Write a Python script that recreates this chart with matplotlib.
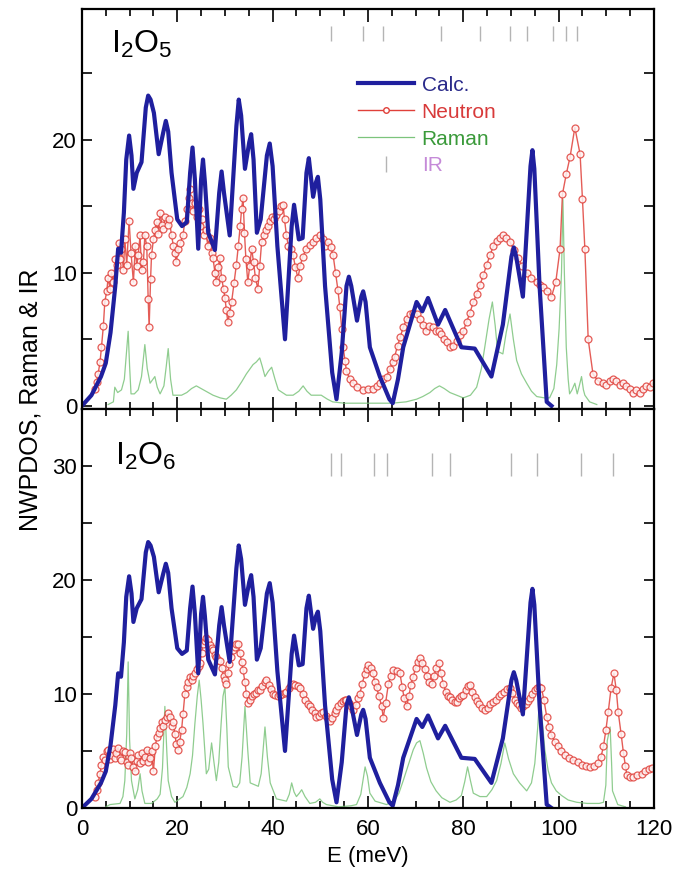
import matplotlib
matplotlib.use("Agg")
import matplotlib.pyplot as plt
from matplotlib.lines import Line2D
from matplotlib.ticker import MultipleLocator

plt.rcParams['font.family'] = ['Liberation Sans', 'DejaVu Sans']
plt.rcParams['mathtext.default'] = 'regular'

# calculated NWPDOS (same curve in both panels)
calc_E = [0, 2, 4, 5, 6, 7, 7.6, 8.2, 8.8, 9.3, 9.9, 10.4, 10.8, 11.5, 12.5, 13.4, 13.9, 14.4, 15.1, 16.1,
          17.1, 17.6, 18.1, 18.8, 20, 21, 22, 22.7, 23.2, 23.7, 24.4, 25.0, 25.4, 25.8, 26.5, 27.9,
          28.8, 29.3, 29.8, 31, 32.4, 32.9, 33.4, 34.2, 35.1, 35.5, 36.0, 36.7, 37.5, 38.8, 39.4, 40.0,
          41, 42.6, 44.0, 44.5, 45.0, 45.5, 46.3, 47.1, 47.6, 48.5, 49.1, 49.5, 50.0, 51, 52.5, 53.4,
          54.5, 55.5, 56, 56.5, 57.7, 58.6, 59, 59.5, 60.4, 62.5, 64.5, 65.2, 66.3, 67.4, 70.2, 71.4,
          72.6, 74.7, 76.2, 79.6, 82.4, 85.9, 88.3, 90.1, 90.6, 91.1, 92.5, 94.1, 94.5, 94.9, 96,
          97.5, 98.5]
calc_v = [0, 0.8, 2.2, 3.2, 5.5, 9, 11.8, 11.5, 14.5, 18.5, 20.3, 18.8, 16.3, 17.5, 18.3, 22.4, 23.3, 23.0, 22, 18.9,
          20.6, 21.4, 20.6, 17.5, 14, 13.5, 13.8, 17.5, 19.4, 17.0, 11.8, 17.0, 18.5, 16.8, 13, 11.7,
          16.0, 17.6, 16.0, 12.8, 21.0, 23, 21.8, 17.8, 19.8, 20.4, 18.5, 13, 14, 18.8, 19.7, 18.0,
          12, 5, 13.5, 15.1, 13.8, 12.5, 12.6, 17.5, 18.6, 15.7, 16.8, 17.2, 15.5, 9, 2.5, 0.5,
          4, 9.0, 9.7, 9.0, 6.4, 8.2, 8.6, 7.8, 4.4, 2.2, 0.5, 0.2, 2, 4.4, 7.8, 7.1,
          8.1, 6.1, 7.2, 4.4, 4.3, 2.2, 6.1, 11.2, 11.9, 11.2, 8.2, 18.0, 19.2, 17.8, 9,
          0.3, 0]

# I2O5 neutron
n5_E = [2.7, 3.1, 3.4, 3.8, 4.1, 4.5, 4.8, 5.2, 5.5, 5.9, 6.2, 6.6, 7.0, 7.3, 7.7, 8.0, 8.3, 8.7, 9.0,
        9.4, 9.9, 10.3, 10.8, 11.2, 11.5, 11.8, 12.2, 12.5, 12.9, 13.2, 13.6, 13.9, 14.1, 14.4, 14.6,
        15.0, 15.3, 15.7, 16.0, 16.4, 16.8, 17.0, 17.5, 18.0, 18.3, 18.8, 19.2, 19.5, 19.8, 20.2, 20.6,
        21.2, 21.6, 22.0, 22.4, 22.7, 23.0, 23.4, 23.7, 24.1, 24.5, 24.8, 25.2, 25.6, 26.0, 26.4, 26.8,
        27.2, 27.5, 27.9, 28.2, 28.6, 28.9, 29.3, 29.7, 30.0, 30.3, 30.6, 31.0, 31.4, 31.9, 32.4, 32.8,
        33.2, 33.5, 33.8, 34.1, 34.4, 34.8, 35.2, 35.6, 36.0, 36.4, 36.9, 37.3, 37.7, 38.2, 38.6, 39.0,
        39.4, 39.9, 40.3, 40.8, 41.3, 41.8, 42.2, 42.5, 42.9, 43.3, 43.8, 44.3, 44.8, 45.3, 45.8, 46.3,
        47.1, 47.8, 48.5, 49.2, 49.9, 50.5, 51.0, 51.6, 52.2, 52.7, 53.2, 53.7, 54.1, 54.5, 54.8, 55.2,
        55.5, 56.2, 56.9, 57.8, 59.0, 60.0, 61.0, 62.0, 62.5, 63.2, 63.9, 64.6, 65.2, 65.6, 66.2, 66.8,
        67.4, 68.1, 68.8, 69.5, 70.2, 70.9, 71.6, 72.2, 72.8, 73.6, 74.3, 75.0, 75.4, 76.0, 76.6, 77.2,
        77.8, 78.6, 79.3, 80.0, 80.7, 81.4, 82.1, 82.8, 83.5, 84.2, 84.9, 85.6, 86.3, 87.0, 87.6, 88.3,
        89.0, 89.8, 90.6, 91.5, 92.4, 93.3, 94.3, 95.4, 96.0, 96.7, 97.6, 98.5, 99.4, 100.3, 100.8, 101.6,
        102.4, 103.4, 104.5, 105.0, 105.5, 106.2, 107.2, 108.2, 109.3, 110.0, 110.7, 111.4, 112.1, 112.8,
        113.5, 114.2, 114.9, 115.6, 116.3, 117.0, 117.7, 118.4, 119.1, 119.7]
n5_v = [1.3, 1.8, 2.4, 3.3, 4.4, 6.0, 7.8, 8.6, 9.6, 8.8, 10.0, 9.3, 11.0, 10.6, 12.2, 11.0, 11.8, 10.2, 12.5,
        10.6, 13.9, 11.5, 9.3, 12.0, 10.5, 11.3, 12.8, 10.2, 10.8, 12.8, 12.0, 8.0, 5.9, 9.5, 11.3,
        12.5, 13.2, 13.8, 12.9, 14.5, 13.6, 13.3, 14.2, 13.6, 14.0, 12.8, 12.0, 11.5, 10.8, 11.8, 12.2,
        12.8, 13.9, 14.8, 15.6, 16.3, 15.2, 14.6, 15.2, 14.2, 14.8, 13.5, 14.0, 12.8, 13.2, 12.0, 12.6,
        11.5, 11.1, 10.0, 9.3, 10.4, 11.1, 9.6, 8.8, 8.1, 7.2, 6.3, 7.0, 7.8, 9.2, 10.6, 12.0,
        13.5, 14.8, 15.6, 13.0, 11.0, 9.3, 10.5, 11.8, 10.8, 9.6, 8.8, 10.5, 12.3, 12.8, 13.2, 13.5,
        13.9, 14.2, 14.0, 14.3, 14.6, 15.0, 15.1, 14.0, 12.8, 12.0, 11.8, 11.3, 10.4, 9.6, 10.5, 11.2,
        11.8, 12.1, 12.3, 12.6, 12.8, 12.5, 12.0, 12.3, 11.9, 11.3, 10.0, 8.7, 7.4, 5.8, 4.4, 3.4,
        2.6, 2.0, 1.7, 1.4, 1.2, 1.3, 1.3, 1.5, 1.7, 2.0, 2.2, 2.8, 3.3, 3.7, 4.5, 5.2,
        5.9, 6.5, 6.9, 7.0, 6.9, 6.5, 6.1, 5.6, 6.0, 5.9, 5.6, 5.6, 5.4, 5.0, 4.8, 4.4,
        4.5, 4.9, 5.3, 5.6, 6.3, 7.0, 7.8, 8.4, 9.1, 9.8, 10.6, 11.3, 12.0, 12.4, 12.6, 12.8,
        12.6, 12.3, 11.7, 11.1, 10.5, 10.0, 9.6, 9.3, 9.1, 8.9, 8.6, 8.2, 9.3, 11.8, 15.9, 17.4,
        18.7, 20.9, 18.9, 15.5, 11.8, 5.0, 2.4, 1.9, 1.7, 1.6, 1.9, 2.0, 1.9, 1.6,
        1.7, 1.5, 1.3, 1.0, 1.2, 1.0, 1.3, 1.5, 1.4, 1.7]

# I2O6 neutron
n6_E = [2.7, 3.1, 3.4, 3.8, 4.1, 4.5, 4.8, 5.2, 5.5, 5.9, 6.2, 6.6, 6.9, 7.2, 7.6, 8.0, 8.3, 8.7, 9.0,
        9.4, 9.7, 10.1, 10.4, 10.8, 11.1, 11.5, 11.8, 12.2, 12.5, 12.9, 13.2, 13.6, 13.9, 14.3, 14.6,
        15.0, 15.4, 15.7, 16.1, 16.4, 16.8, 17.1, 17.4, 17.8, 18.1, 18.5, 18.8, 19.1, 19.5, 19.8, 20.2,
        20.5, 20.9, 21.2, 21.6, 22.0, 22.3, 22.7, 23.0, 23.4, 23.7, 24.1, 24.5, 24.8, 25.1, 25.4, 25.8,
        26.1, 26.5, 26.8, 27.2, 27.5, 27.9, 28.2, 28.6, 29.0, 29.3, 29.7, 30.0, 30.3, 30.6, 30.9, 31.3,
        31.7, 32.1, 32.4, 32.8, 33.1, 33.5, 33.8, 34.2, 34.5, 34.9, 35.2, 35.6, 36.0, 36.5, 37.0, 37.3,
        37.8, 38.3, 38.7, 39.2, 39.6, 40.1, 40.6, 41.1, 41.5, 42.0, 42.5, 42.9, 43.4, 43.9, 44.3, 44.8,
        45.3, 45.7, 46.3, 46.9, 47.4, 47.8, 48.3, 48.8, 49.2, 49.7, 50.2, 50.6, 51.1, 51.6, 52.0, 52.5,
        53.0, 53.4, 53.8, 54.3, 54.8, 55.2, 55.5, 56.0, 56.4, 56.9, 57.4, 57.9, 58.3, 58.8, 59.3, 59.7,
        60.1, 60.6, 61.0, 61.5, 61.8, 62.3, 62.9, 63.2, 63.7, 64.3, 64.8, 65.3, 66.0, 66.7, 67.2, 67.6,
        68.1, 68.6, 69.0, 69.5, 70.0, 70.4, 70.9, 71.4, 71.9, 72.4, 72.9, 73.4, 73.9, 74.3, 74.8, 75.3,
        75.8, 76.3, 76.8, 77.2, 77.7, 78.2, 78.6, 79.1, 79.6, 80.0, 80.5, 81.0, 81.4, 81.9, 82.4, 82.8,
        83.3, 83.9, 84.5, 85.1, 85.7, 86.3, 86.9, 87.5, 88.0, 88.6, 89.2, 89.8, 90.3, 90.8, 91.2, 91.7,
        92.2, 92.6, 93.1, 93.6, 94.0, 94.5, 95.0, 95.4, 95.9, 96.4, 96.9, 97.5, 98.0, 98.5, 99.2, 99.9,
        100.6, 101.3, 102.2, 103.1, 104.0, 104.8, 105.7, 106.6, 107.5, 108.3, 108.9, 109.4, 109.9, 110.4,
        111.0, 111.6, 112.1, 112.5, 113.1, 113.6, 114.0, 114.3, 115.0, 115.7, 116.5, 117.4, 118.2, 119.0,
        119.5]
n6_v = [1.0, 1.6, 2.2, 3.0, 3.8, 4.5, 4.2, 5.0, 5.1, 4.3, 4.6, 5.2, 4.4, 4.8, 5.3, 4.4, 4.2, 5.0, 4.9,
        4.0, 3.8, 4.8, 4.4, 3.6, 3.2, 4.1, 4.6, 3.9, 4.8, 4.1, 4.5, 5.1, 4.0, 4.4, 5.0,
        3.2, 5.4, 6.2, 6.6, 7.0, 7.5, 7.2, 7.7, 8.0, 8.3, 8.0, 7.2, 7.5, 6.5, 5.6, 5.1,
        5.8, 6.8, 8.2, 10.0, 10.6, 11.0, 11.5, 11.2, 11.6, 11.8, 12.2, 12.4, 12.7, 13.6, 14.4, 14.6,
        14.9, 14.7, 14.3, 14.0, 13.8, 13.4, 13.2, 13.0, 12.9, 12.3, 11.6, 11.2, 10.9, 11.8, 12.6, 13.2,
        13.8, 14.1, 14.4, 14.4, 13.6, 12.8, 12.1, 11.0, 10.0, 9.2, 9.5, 9.8, 10.0, 10.1, 10.3, 10.3,
        10.7, 11.0, 11.2, 10.8, 10.4, 10.0, 9.9, 9.8, 9.9, 10.0, 10.1, 10.2, 10.5, 10.8, 10.9, 10.8,
        10.7, 10.5, 10.0, 9.5, 9.1, 8.9, 8.6, 8.3, 8.0, 8.1, 8.3, 8.4, 8.1, 7.8, 7.6, 7.9,
        8.3, 8.6, 8.9, 9.2, 9.4, 9.5, 9.5, 9.2, 8.9, 8.6, 9.0, 9.6, 10.0, 10.9, 11.7, 12.2,
        12.5, 12.3, 11.8, 11.0, 10.6, 9.8, 8.9, 7.9, 9.2, 10.9, 11.6, 12.1, 12.0, 11.8, 10.6, 9.6,
        8.9, 9.8, 10.8, 11.5, 12.3, 12.8, 13.1, 12.7, 12.2, 11.6, 11.0, 10.9, 11.6, 12.3, 12.7, 11.8,
        10.9, 10.2, 9.8, 9.7, 9.5, 9.3, 9.3, 9.6, 9.8, 9.9, 10.3, 10.7, 10.8, 10.2, 9.7, 9.4,
        9.1, 8.8, 8.6, 8.8, 9.1, 9.3, 9.5, 9.8, 10.0, 10.2, 10.4, 10.5, 10.1, 9.5, 9.2, 9.0,
        8.8, 8.9, 9.1, 9.4, 9.6, 10.0, 10.3, 10.5, 10.6, 10.5, 9.5, 8.0, 7.1, 6.4, 5.8, 5.4,
        5.0, 4.6, 4.4, 4.2, 4.0, 3.8, 3.7, 3.6, 3.7, 3.9, 4.5, 5.4, 6.8, 8.4,
        10.5, 11.8, 10.3, 8.4, 6.5, 4.8, 3.7, 2.9, 2.7, 2.7, 2.9, 3.0, 3.2, 3.4,
        3.5]

# Raman spectra
r5_E = [5.5, 6.6, 6.9, 7.5, 8.3, 8.9, 9.3, 9.7, 10.0, 10.3, 11.0, 11.8, 12.5, 13.2, 13.7, 14.3, 15.3,
        15.8, 16.4, 17.2, 17.7, 18.1, 18.6, 19.1, 20.9, 22.0, 23.0, 24.0, 25.0, 26.0, 27.5, 29.0, 30.3,
        31.3, 32.4, 33.5, 34.5, 35.3, 35.9, 36.6, 37.3, 37.8, 38.4, 39.1, 39.8, 40.5, 41.2, 42.9, 44.3,
        45.5, 46.4, 47.2, 48.1, 50.2, 51.5, 52.6, 55.0, 60.0, 65.0, 68.0, 70.2, 71.5, 73.0, 74.0, 75.0,
        76.0, 77.2, 78.6, 80.0, 81.5, 82.8, 83.8, 84.5, 85.4, 86.1, 86.7, 87.2, 88.3, 89.0, 89.8, 90.5,
        91.2, 92.2, 93.3, 94.3, 95.4, 97.0, 98.1, 99.0, 99.6, 100.1, 100.6, 100.9, 101.2, 101.6, 102.0,
        102.3, 102.8, 103.4, 103.9, 104.4, 104.8, 105.2, 105.5, 106.5, 108.0]
r5_v = [0.1, 0.3, 1.4, 1.0, 1.2, 2.0, 3.8, 5.6, 3.0, 0.9, 0.9, 1.2, 2.2, 4.6, 2.8, 1.7, 2.2,
        1.4, 0.9, 1.5, 3.0, 4.3, 2.0, 0.8, 0.8, 1.0, 1.3, 1.5, 1.3, 1.1, 0.8, 0.6, 0.5,
        0.8, 1.2, 1.8, 2.4, 2.8, 3.1, 3.3, 3.6, 3.0, 2.2, 2.6, 2.9, 2.0, 1.2, 0.8, 0.8,
        1.1, 1.5, 1.1, 0.8, 0.8, 0.5, 0.3, 0.2, 0.2, 0.2, 0.3, 0.5, 0.7, 1.0, 1.3, 1.5,
        1.3, 1.0, 0.8, 0.6, 0.8, 1.4, 2.8, 4.4, 6.5, 7.8, 6.0, 4.1, 3.9, 5.5, 6.9, 5.0,
        3.4, 2.4, 1.7, 1.1, 0.7, 0.6, 0.6, 1.3, 3.1, 5.8, 10.0, 15.5, 10.0, 4.4, 2.0,
        0.9, 1.2, 1.7, 0.9, 1.6, 2.2, 1.2, 0.8, 0.3, 0.1]

r6_E = [5.0, 5.9, 8.0, 8.6, 9.0, 9.4, 9.7, 10.0, 10.4, 11.1, 11.7, 12.2, 12.6, 13.2, 14.6, 15.8, 16.4,
        16.9, 17.4, 17.8, 18.1, 18.8, 19.5, 21.2, 22.0, 22.7, 23.2, 23.7, 24.2, 24.6, 25.0, 25.4, 26.1,
        26.6, 27.2, 27.7, 28.2, 28.7, 29.2, 29.6, 30.0, 30.4, 30.7, 31.7, 32.5, 33.1, 33.6, 34.2, 34.8,
        35.3, 37.0, 37.6, 38.0, 38.4, 38.9, 39.5, 40.8, 42.9, 43.5, 44.0, 44.5, 45.0, 45.6, 46.1, 46.8,
        47.8, 49.0, 49.9, 50.5, 51.3, 53.8, 56.5, 57.6, 58.5, 59.0, 59.4, 59.9, 60.4, 61.5, 63.9, 65.5,
        66.5, 67.4, 68.5, 69.5, 70.2, 70.9, 71.6, 72.3, 73.2, 74.3, 75.5, 77.2, 78.5, 79.6, 80.3, 80.9,
        81.5, 82.1, 83.5, 84.9, 86.0, 87.0, 87.9, 88.7, 89.5, 90.5, 91.8, 93.3, 94.3, 95.0, 95.6, 96.1,
        96.6, 97.1, 97.8, 98.5, 99.5, 100.6, 102.0, 103.8, 106.0, 108.5, 109.4, 109.9, 110.2, 110.8,
        111.1, 111.3, 112.4, 114.0]
r6_v = [0.1, 0.3, 0.4, 1.0, 2.4, 6.5, 12.8, 6.0, 2.4, 0.8, 1.6, 3.0, 1.5, 0.4, 0.4, 0.8, 1.2,
        3.5, 8.9, 5.0, 2.4, 1.0, 0.5, 1.0, 1.8, 3.0, 4.6, 7.4, 9.8, 11.2, 9.5, 7.4, 3.0,
        3.4, 5.7, 4.0, 2.4, 4.0, 7.4, 9.8, 10.6, 7.0, 3.6, 1.9, 1.8, 2.2, 4.5, 8.9, 5.0,
        2.2, 1.9, 3.0, 5.0, 7.1, 4.5, 2.2, 0.8, 0.6, 1.2, 2.2, 1.4, 1.0, 1.3, 1.6, 1.0,
        0.4, 0.5, 0.8, 0.5, 0.3, 0.1, 0.2, 0.3, 1.2, 2.5, 3.6, 2.8, 1.3, 0.6, 0.3, 0.6,
        1.3, 2.4, 3.8, 5.1, 5.7, 5.9, 4.8, 3.5, 2.3, 1.5, 0.9, 0.5, 0.7, 1.1, 2.3, 3.6,
        2.4, 1.3, 1.0, 1.0, 1.6, 2.4, 3.9, 5.7, 4.3, 3.0, 2.2, 1.5, 2.2, 3.9, 7.0, 10.3,
        7.5, 5.1, 3.3, 2.2, 1.5, 1.1, 0.7, 0.5, 0.4, 0.4, 0.5, 2.0, 5.9, 7.1,
        4.0, 1.5, 0.3, 0.1]

# IR band positions
ir5 = [52.2, 58.9, 63.1, 75.4, 83.5, 89.8, 93.3, 98.9, 101.6, 103.8]
ir6 = [52.2, 54.4, 61.3, 63.9, 73.4, 77.2, 90.1, 95.4, 104.6, 111.3]

BLUE = '#1f1f9e'
RED = '#e0403a'
GREEN = '#7cc47c'
GRAY = '#b4b4b4'

fig, (ax1, ax2) = plt.subplots(2, 1, figsize=(6.77, 8.69), dpi=100, sharex=True)
fig.subplots_adjust(left=0.121, right=0.966, top=0.9896, bottom=0.0702, hspace=0)

panels = [(ax1, n5_E, n5_v, r5_E, r5_v, ir5, (27.4, 28.5), (-0.2, 29.8)),
          (ax2, n6_E, n6_v, r6_E, r6_v, ir6, (29.1, 31.1), (0, 35))]

for ax, nE, nv, rE, rv, ir, irlim, ylim in panels:
    ax.plot(rE, rv, color=GREEN, lw=0.9, alpha=0.85)
    ax.plot(nE, nv, color=RED, lw=1.0, marker='o', markersize=5.0,
            markerfacecolor='#fff2f2', markeredgecolor=RED, markeredgewidth=0.9, alpha=0.85)
    ax.plot(calc_E, calc_v, color=BLUE, lw=3.0)
    ax.vlines(ir, irlim[0], irlim[1], color=GRAY, lw=1.0)
    ax.set_xlim(0, 120)
    ax.set_ylim(*ylim)
    ax.xaxis.set_major_locator(MultipleLocator(20))
    ax.xaxis.set_minor_locator(MultipleLocator(5))
    ax.yaxis.set_major_locator(MultipleLocator(10))
    ax.yaxis.set_minor_locator(MultipleLocator(5))
    ax.tick_params(which='both', direction='in', top=True, right=True, width=1.2, labelsize=16)
    ax.tick_params(axis='x', which='major', length=9, pad=8)
    ax.tick_params(axis='x', which='minor', length=5)
    ax.tick_params(axis='y', which='both', length=7)
    for s in ax.spines.values():
        s.set_linewidth(1.6)

ax1.text(0.05, 0.89, r'$I_2O_5$', transform=ax1.transAxes, fontsize=23, va='baseline')
ax2.text(0.057, 0.86, r'$I_2O_6$', transform=ax2.transAxes, fontsize=23, va='baseline')

ax2.set_xlabel('E (meV)', fontsize=16, labelpad=4)
fig.text(0.045, 0.54, 'NWPDOS, Raman & IR', rotation=90, fontsize=18, ha='center', va='center')

handles = [Line2D([], [], color=BLUE, lw=3.0),
           Line2D([], [], color=RED, lw=1.0, marker='o', markersize=4, markerfacecolor='white'),
           Line2D([], [], color=GREEN, lw=0.9),
           Line2D([], [], ls='none', marker='|', markersize=12, color=GRAY)]
labels = ['Calc.', 'Neutron', 'Raman', 'IR']
leg = ax1.legend(handles, labels, loc='upper left', bbox_to_anchor=(0.45, 0.88), frameon=False,
                 fontsize=15, handlelength=2.7, handletextpad=0.35, labelspacing=0.38, numpoints=1)
for t, c in zip(leg.get_texts(), ['#2a2a8a', '#d83a3a', '#3a9a3a', '#c58ad8']):
    t.set_color(c)

fig.savefig('out.png', dpi=100)
